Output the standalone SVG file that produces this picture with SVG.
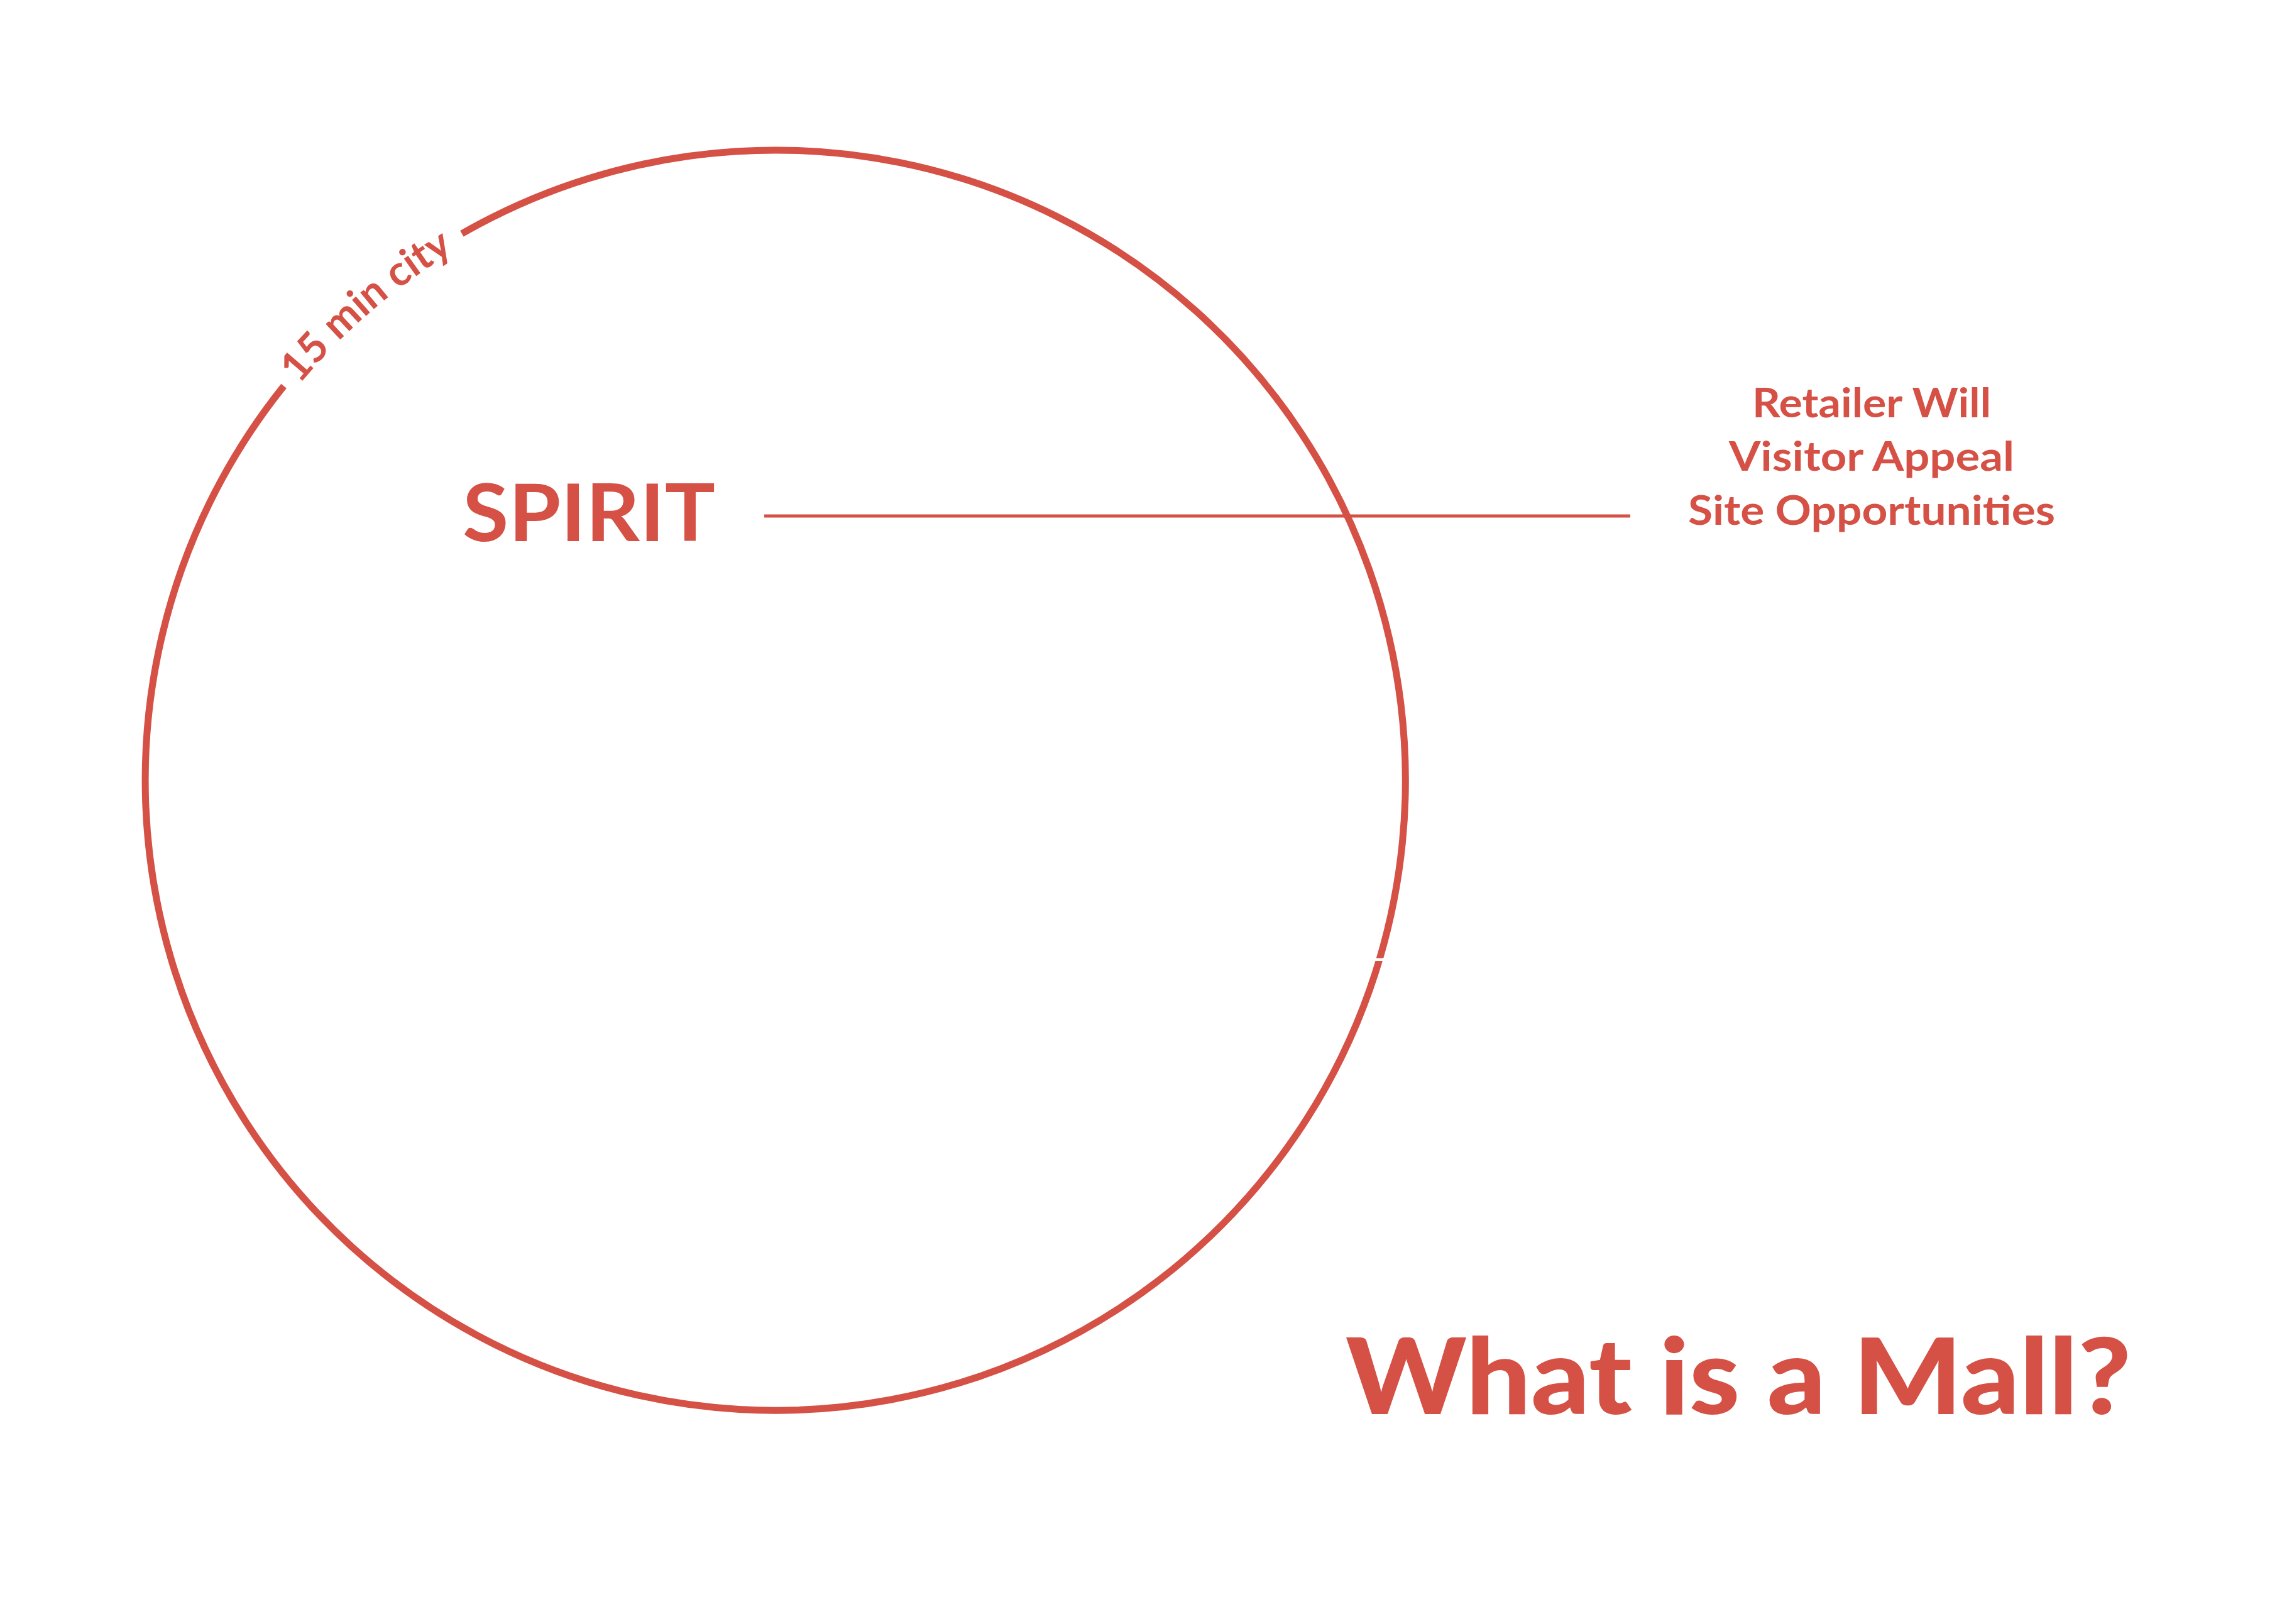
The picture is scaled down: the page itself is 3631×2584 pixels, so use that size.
<svg xmlns="http://www.w3.org/2000/svg" xmlns:xlink="http://www.w3.org/1999/xlink" width="3631" height="2584" viewBox="0 0 3631 2584">
<style>
.red{fill:#D55045}
.stroke{fill:none;stroke:#D55045}
.t{font-family:"Lato","Open Sans","Liberation Sans",sans-serif;fill:#D55045}
</style>
<defs>
<path id="arcText" d="M 307.9 904.8 A 985 985 0 0 1 1037.1 276.5"/>
</defs>
<rect width="3631" height="2584" fill="#ffffff"/>
<g id="circle">
<path class="stroke" stroke-width="11" d="M 734.9 371.8 A 1002.6 1002.6 0 1 1 451.6 614.2"/>
<rect x="2170" y="1524.5" width="40" height="4.5" fill="#ffffff"/>
</g>
<g id="circle-label">
<text class="t" font-size="66" font-weight="700" text-anchor="middle"><textPath xlink:href="#arcText" href="#arcText" startOffset="50%">15 min city</textPath></text>
</g>
<g id="connectors">
<line class="stroke" stroke-width="5" x1="1216" y1="821" x2="2594" y2="821"/>
</g>
<g id="spirit">
<text class="t" x="736" y="861" font-size="127" font-weight="700" textLength="402" lengthAdjust="spacingAndGlyphs">SPIRIT</text>
</g>
<g id="factors">
<text class="t" x="2978" y="664" font-size="65" font-weight="700" text-anchor="middle" textLength="380" lengthAdjust="spacingAndGlyphs">Retailer Will</text>
<text class="t" x="2978" y="749" font-size="65" font-weight="700" text-anchor="middle" textLength="454" lengthAdjust="spacingAndGlyphs">Visitor Appeal</text>
<text class="t" x="2978" y="835" font-size="65" font-weight="700" text-anchor="middle" textLength="584" lengthAdjust="spacingAndGlyphs">Site Opportunities</text>
</g>
<g id="title">
<text class="t" x="2141" y="2250" font-size="167" font-weight="900" textLength="1250" lengthAdjust="spacingAndGlyphs">What is a Mall?</text>
</g>
</svg>
